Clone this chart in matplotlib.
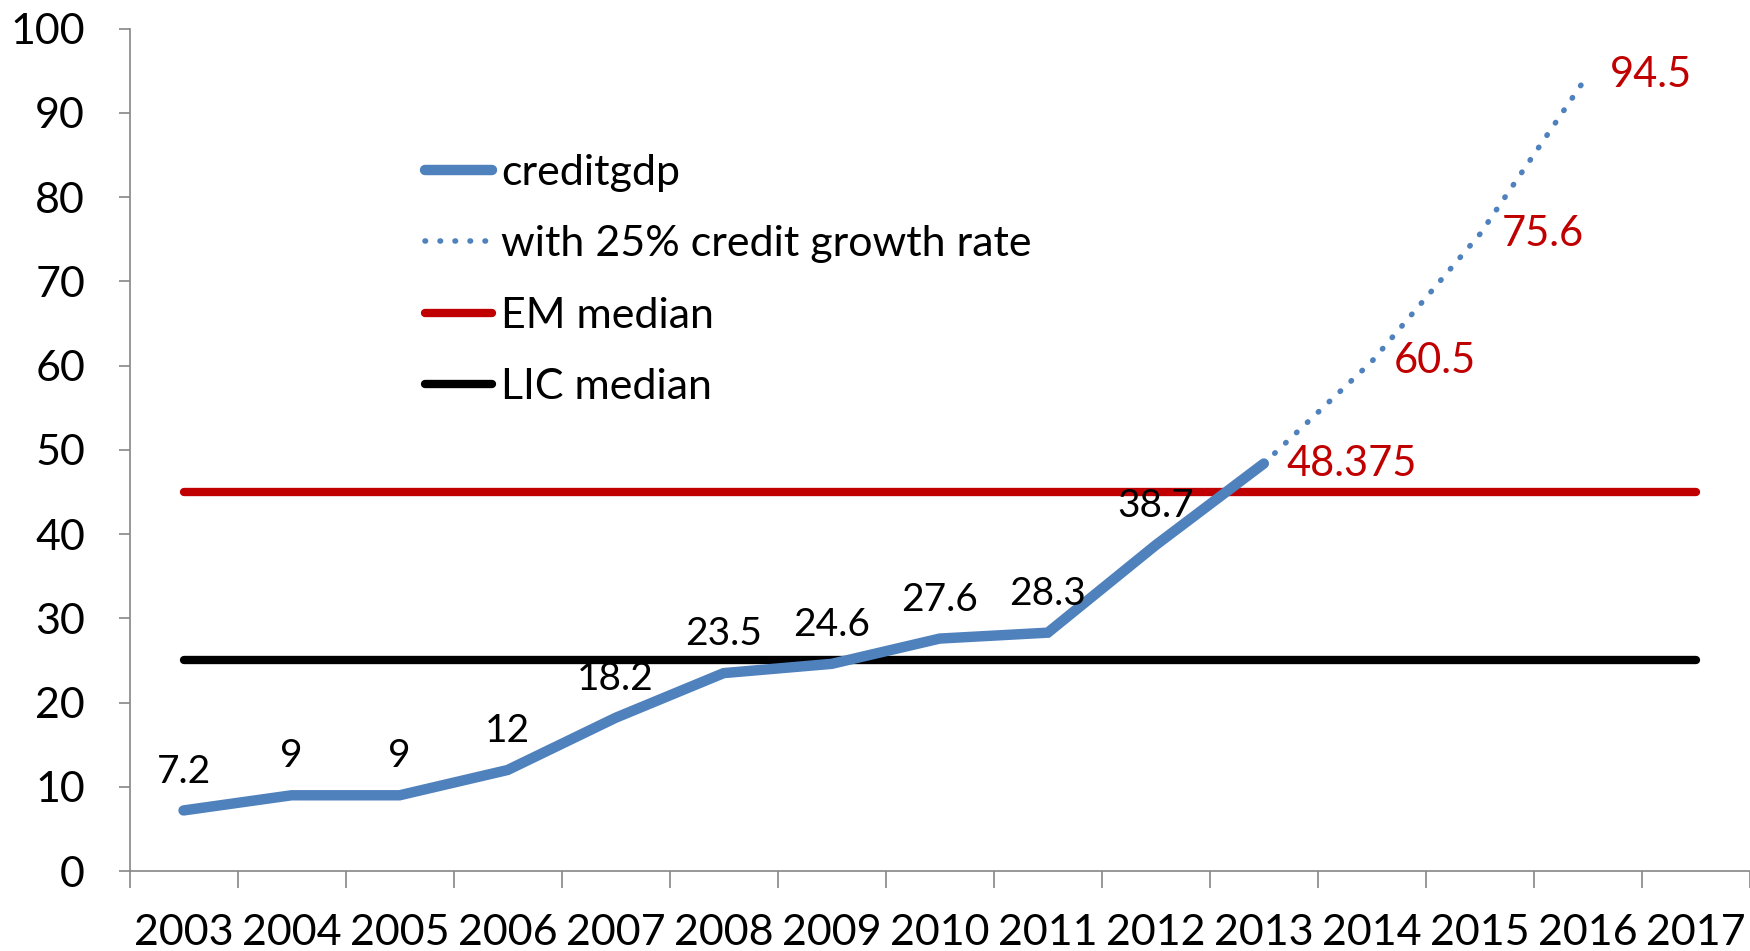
import numpy as np
import matplotlib.pyplot as plt

plt.rcParams['font.family'] = ['Lato', 'DejaVu Sans']

# Data
years = ['2003', '2004', '2005', '2006', '2007', '2008', '2009', '2010',
         '2011', '2012', '2013', '2014', '2015', '2016', '2017']
creditgdp = [7.2, 9, 9, 12, 18.2, 23.5, 24.6, 27.6, 28.3, 38.7, 48.375]
projection = [48.375, 60.5, 75.6, 94.5]   # 2013-2016 at 25% credit growth
em_median = 45
lic_median = 25

BLUE = '#4F81BD'
RED = '#C00000'
GREY = '#868686'

x_hist = np.arange(len(creditgdp))
x_proj = np.arange(len(creditgdp) - 1, len(creditgdp) - 1 + len(projection))
x_all = np.arange(len(years))

fig = plt.figure(figsize=(17.5, 9.51), dpi=100)
ax = fig.add_axes([0.074, 0.084, 0.926, 0.886])

ax.plot(x_hist, creditgdp, color=BLUE, lw=7.5, solid_capstyle='round',
        solid_joinstyle='miter', label='creditgdp', zorder=3)
ax.plot(x_proj, projection, color=BLUE, lw=4, linestyle=(0, (0.1, 2.6)),
        dash_capstyle='round', label='with 25% credit growth rate', zorder=3)
ax.plot([x_all[0], x_all[-1]], [em_median, em_median], color=RED, lw=6,
        solid_capstyle='round', label='EM median', zorder=2)
ax.plot([x_all[0], x_all[-1]], [lic_median, lic_median], color='black', lw=6,
        solid_capstyle='round', label='LIC median', zorder=2)

# value labels: history above the line, projection to the right in red
for xi, v in zip(x_hist[:-1], creditgdp[:-1]):
    ax.annotate(f'{v:g}', (xi, v), xytext=(0, 28), textcoords='offset points',
                ha='center', va='center', fontsize=28, color='black', zorder=4)
for xi, v in zip(x_proj, projection):
    ax.annotate(f'{v:g}', (xi, v), xytext=(16, 0), textcoords='offset points',
                ha='left', va='center', fontsize=30, color=RED, zorder=4)

ax.set_xlim(-0.5, len(years) - 0.5)
ax.set_ylim(0, 100)
ax.set_yticks(np.arange(0, 101, 10))
ax.tick_params(axis='y', direction='out', length=8, width=1.2, color=GREY,
               labelsize=31, pad=24)

# category boundaries carry the tick marks, centres carry the labels
ax.set_xticks(np.arange(-0.5, len(years), 1))
ax.set_xticklabels([])
ax.set_xticks(x_all, minor=True)
ax.set_xticklabels(years, minor=True)
ax.tick_params(axis='x', which='major', direction='out', length=12, width=1.2,
               color=GREY)
ax.tick_params(axis='x', which='minor', length=0, labelsize=31, pad=31)

for side in ['top', 'right']:
    ax.spines[side].set_visible(False)
for side in ['left', 'bottom']:
    ax.spines[side].set_color(GREY)
    ax.spines[side].set_linewidth(1.2)

ax.legend(loc='upper left', bbox_to_anchor=(0.172, 0.872), frameon=False,
          fontsize=31, handlelength=1.55, handletextpad=0.2,
          labelspacing=0.78, borderaxespad=0)

fig.savefig('out.png', dpi=100)
